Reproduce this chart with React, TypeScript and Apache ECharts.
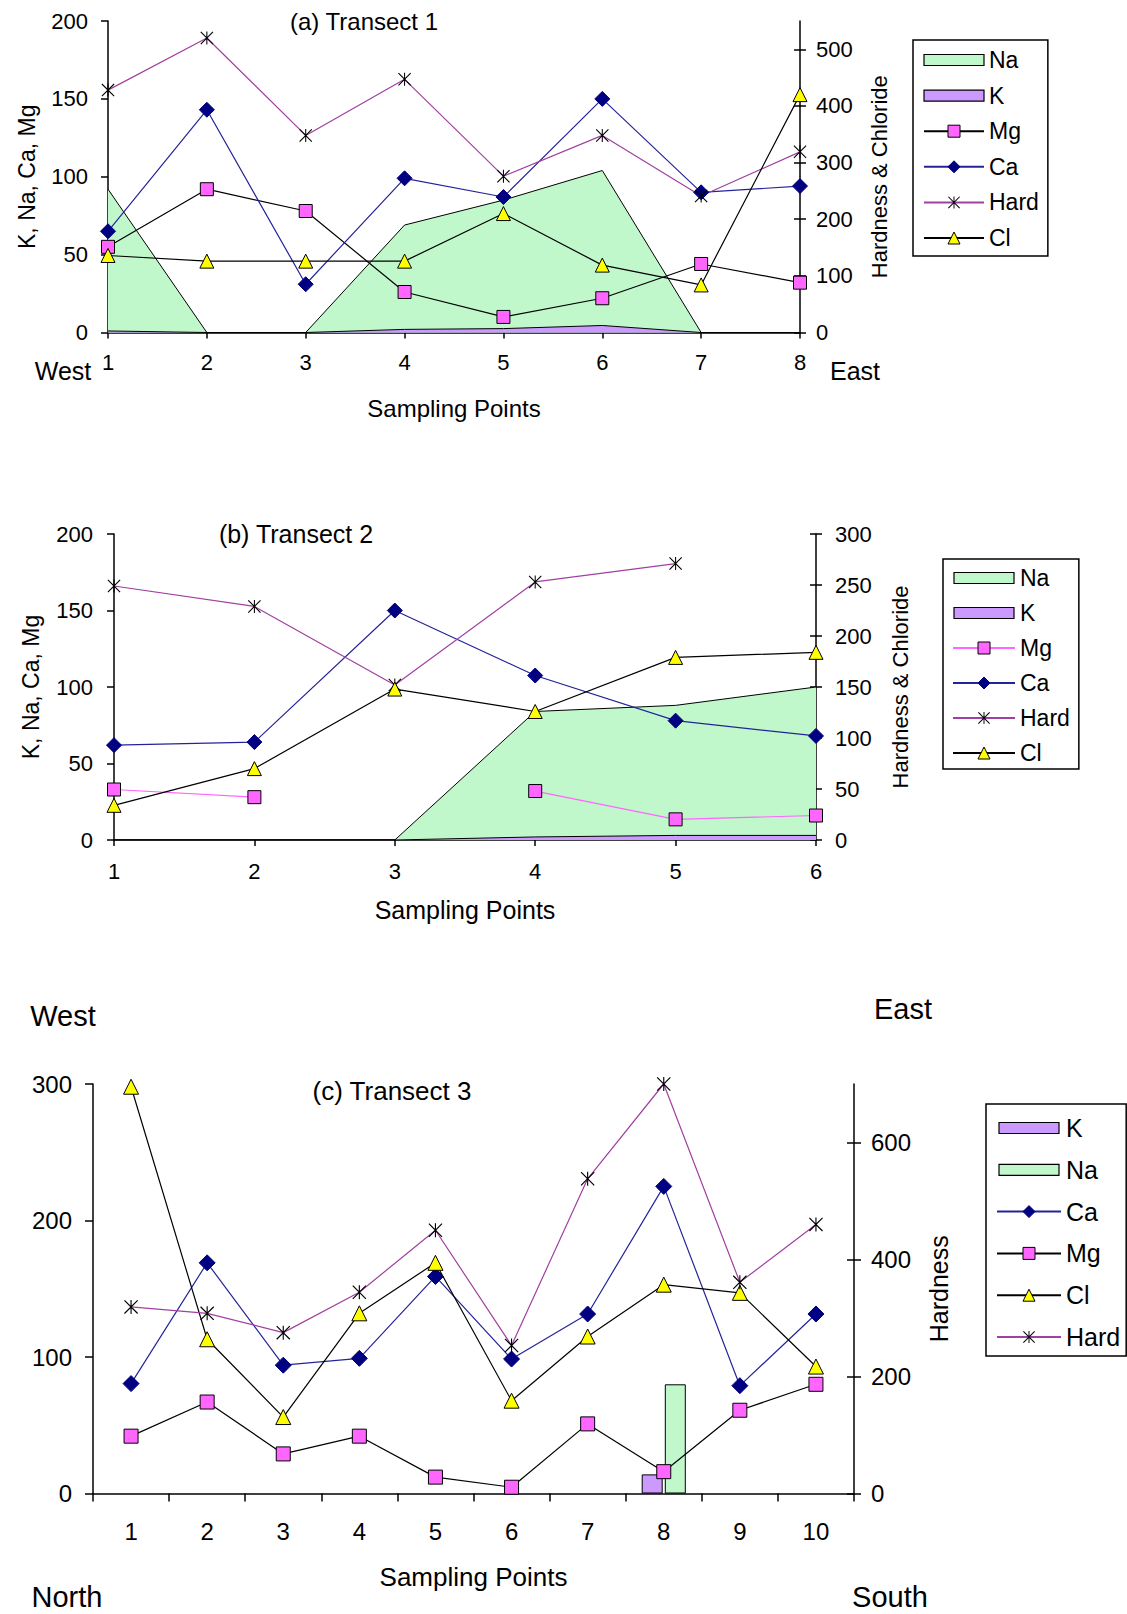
import React, { useEffect, useRef } from 'react';
import * as echarts from 'echarts';

const FONT = 'Arial, "Liberation Sans", sans-serif';

// ---------- Panel (a) Transect 1 ----------
const catsA = ['1', '2', '3', '4', '5', '6', '7', '8'];
const naA = [92, 0, 0, 69, 85, 104, 0, 0];
const kA = [1, 0, 0, 2, 2.5, 4.5, 0, 0];
const mgA = [55, 92, 78, 26, 10, 22, 44, 32];
const caA = [65, 143, 31, 99, 87, 150, 90, 94];
const hardA = [428, 520, 348, 447, 276, 348, 241, 319];
const clA = [136, 126, 126, 126, 210, 119, 84, 420];
const rightTicksA = [0, 100, 200, 300, 400, 500];

// ---------- Panel (b) Transect 2 ----------
const catsB = ['1', '2', '3', '4', '5', '6'];
const naB = [0, 0, 0, 84, 88, 100];
const kB = [0, 0, 0, 2, 3, 3];
const mgB = [33, 28, null, 32, 13.5, 16];
const caB = [62, 64, 150, 107.5, 78, 68];
const hardB = [249, 229, 152, 253, 271, null];
const clB = [34, 70, 148, 126, 179, 184];

// ---------- Panel (c) Transect 3 ----------
const catsC = ['1', '2', '3', '4', '5', '6', '7', '8', '9', '10'];
const kC = [null, null, null, null, null, null, null, 14, null, null];
const naC = [null, null, null, null, null, null, null, 80, null, null];
const caC = [80.5, 169, 94, 99, 159, 98.5, 131.5, 225, 79, 131.5];
const mgC = [42, 67, 29, 42, 12, 4.6, 51, 16, 61, 80];
const clC = [298, 113, 56, 132, 169, 68, 115, 153, 147, 93];
const hardC = [319, 308, 275, 344, 450, 253, 538, 700, 361, 460];
const rightTicksC = [0, 200, 400, 600];

// ---------- Colours ----------
const NA_FILL = '#c0f8cc';
const K_FILL = '#cc99ff';
const MG_FILL = '#ff66ff';
const CA_FILL = '#000080';
const CA_LINE = '#24249a';
const HARD_LINE = '#a040a0';
const CL_FILL = '#ffff00';
const STAR =
  'path://M4.6,0L5.4,0L5.4,10L4.6,10Z M0,0.6L0.6,0L10,9.4L9.4,10Z M9.4,0L10,0.6L0.6,10L0,9.4Z';
const RECT_ICON = 'path://M0,0M0,15M0,2L60,2L60,13L0,13Z';

const txt = (size: number) => ({ fontSize: size, fontFamily: FONT, color: '#000' });
const axisLine = { show: true, lineStyle: { color: '#000', width: 1.5 } };
const tick = (length: number, inside = false, extra: any = {}) => ({
  show: true,
  inside,
  length,
  lineStyle: { color: '#000', width: 1.5 },
  ...extra,
});

function areaSeries(name: string, data: any[], fill: string, xi: number, yi: number) {
  return {
    type: 'line',
    name,
    data,
    xAxisIndex: xi,
    yAxisIndex: yi,
    symbol: 'none',
    lineStyle: { color: '#000', width: 1 },
    areaStyle: { color: fill, opacity: 1 },
    itemStyle: { color: fill },
    z: 1,
    emphasis: { disabled: true },
  };
}

function markSeries(
  name: string,
  data: any[],
  xi: number,
  yi: number,
  o: { line: string; fill: string; border: string; symbol: string; size: number; bw?: number }
) {
  return {
    type: 'line',
    name,
    data,
    xAxisIndex: xi,
    yAxisIndex: yi,
    symbol: o.symbol,
    symbolSize: o.size,
    showSymbol: true,
    showAllSymbol: true,
    connectNulls: false,
    lineStyle: { color: o.line, width: 1.2 },
    itemStyle: { color: o.fill, borderColor: o.border, borderWidth: o.bw ?? 1 },
    z: 3,
    emphasis: { disabled: true },
  };
}

const MG = (line: string, size: number) => ({ line, fill: MG_FILL, border: '#000', symbol: 'rect', size });
const CA = (size: number) => ({ line: CA_LINE, fill: CA_FILL, border: CA_FILL, symbol: 'diamond', size: size + 2 });
const HARD = (size: number) => ({ line: HARD_LINE, fill: '#000', border: '#000', symbol: STAR, size, bw: 0 });
const CL = (size: number) => ({ line: '#000', fill: CL_FILL, border: '#000', symbol: 'triangle', size: size + 1 });

function legendCfg(
  prefix: string,
  names: string[],
  pos: { left: number; top: number; padding: number[]; gap: number; w: number; h: number; font: number; lh: number }
) {
  const fills: Record<string, string> = { Na: NA_FILL, K: K_FILL };
  return {
    orient: 'vertical',
    left: pos.left,
    top: pos.top,
    padding: pos.padding,
    itemGap: pos.gap,
    itemWidth: pos.w,
    itemHeight: pos.h,
    borderColor: '#000',
    borderWidth: 1.5,
    borderRadius: 0,
    backgroundColor: '#fff',
    selectedMode: false,
    textStyle: { ...txt(pos.font), lineHeight: pos.lh },
    formatter: (n: string) => n.split(':')[1],
    data: names.map((n) =>
      fills[n]
        ? { name: prefix + n, icon: RECT_ICON, itemStyle: { color: fills[n], borderColor: '#000', borderWidth: 1.2 } }
        : { name: prefix + n, itemStyle: { borderWidth: n === 'Hard' ? 0 : 1 } }
    ),
  };
}

function gtext(text: string, x: number, y: number, size: number) {
  return {
    type: 'text',
    x,
    y,
    silent: true,
    style: { text, fill: '#000', font: `${size}px ${FONT}`, align: 'center', verticalAlign: 'middle' },
  };
}

function buildOption() {
  const grid = [
    { left: 108, top: 21, width: 692, height: 311.5, outerBoundsMode: 'none' },
    { left: 114, top: 534, width: 702, height: 306, outerBoundsMode: 'none' },
    { left: 93, top: 1084, width: 761, height: 409.5, outerBoundsMode: 'none' },
  ];

  const xAxis = [
    {
      type: 'category', gridIndex: 0, data: catsA, boundaryGap: false,
      axisLine, axisTick: tick(6), splitLine: { show: false },
      axisLabel: { ...txt(22), margin: 19, interval: 0, lineHeight: 22 },
      name: 'Sampling Points', nameLocation: 'middle', nameGap: 64, nameTextStyle: { ...txt(24), lineHeight: 24 },
    },
    {
      type: 'category', gridIndex: 1, data: catsB, boundaryGap: false,
      axisLine, axisTick: tick(6), splitLine: { show: false },
      axisLabel: { ...txt(22), margin: 20, interval: 0, lineHeight: 22 },
      name: 'Sampling Points', nameLocation: 'middle', nameGap: 57, nameTextStyle: { ...txt(25), lineHeight: 25 },
    },
    {
      type: 'category', gridIndex: 2, data: catsC, boundaryGap: true,
      axisLine, axisTick: tick(8), splitLine: { show: false },
      axisLabel: { ...txt(24), margin: 26, interval: 0, lineHeight: 24 },
      name: 'Sampling Points', nameLocation: 'middle', nameGap: 70, nameTextStyle: { ...txt(26), lineHeight: 26 },
    },
  ];

  const yAxis = [
    // 0: a left
    {
      type: 'value', gridIndex: 0, position: 'left', min: 0, max: 200, interval: 50,
      axisLine, axisTick: tick(7), splitLine: { show: false },
      axisLabel: { ...txt(22), margin: 20 },
      name: 'K, Na, Ca, Mg', nameLocation: 'middle', nameGap: 70, nameTextStyle: { ...txt(23), lineHeight: 23 },
    },
    // 1: a right
    {
      type: 'value', gridIndex: 0, position: 'right', min: 0, max: 550,
      axisLine, axisTick: tick(6, false, { customValues: rightTicksA }), splitLine: { show: false },
      axisLabel: { ...txt(22), margin: 16, customValues: rightTicksA },
      name: 'Hardness & Chloride', nameLocation: 'middle', nameGap: 68, nameTextStyle: { ...txt(22), lineHeight: 22 },
    },
    // 2: a right inner ticks
    {
      type: 'value', gridIndex: 0, position: 'right', min: 0, max: 550,
      axisLine: { show: false }, axisTick: tick(6, true, { customValues: rightTicksA }),
      axisLabel: { show: false }, splitLine: { show: false },
    },
    // 3: b left
    {
      type: 'value', gridIndex: 1, position: 'left', min: 0, max: 200, interval: 50,
      axisLine, axisTick: tick(7), splitLine: { show: false },
      axisLabel: { ...txt(22), margin: 21 },
      name: 'K, Na, Ca, Mg', nameLocation: 'middle', nameGap: 72, nameTextStyle: { ...txt(23), lineHeight: 23 },
    },
    // 4: b right
    {
      type: 'value', gridIndex: 1, position: 'right', min: 0, max: 300, interval: 50,
      axisLine, axisTick: tick(6), splitLine: { show: false },
      axisLabel: { ...txt(22), margin: 19 },
      name: 'Hardness & Chloride', nameLocation: 'middle', nameGap: 73, nameTextStyle: { ...txt(22), lineHeight: 22 },
    },
    // 5: b right inner ticks
    {
      type: 'value', gridIndex: 1, position: 'right', min: 0, max: 300, interval: 50,
      axisLine: { show: false }, axisTick: tick(6, true), axisLabel: { show: false }, splitLine: { show: false },
    },
    // 6: c left
    {
      type: 'value', gridIndex: 2, position: 'left', min: 0, max: 300, interval: 100,
      axisLine, axisTick: tick(8), splitLine: { show: false },
      axisLabel: { ...txt(24), margin: 21 },
    },
    // 7: c right
    {
      type: 'value', gridIndex: 2, position: 'right', min: 0, max: 700,
      axisLine, axisTick: tick(7, false, { customValues: rightTicksC }), splitLine: { show: false },
      axisLabel: { ...txt(24), margin: 17, customValues: rightTicksC },
      name: 'Hardness', nameLocation: 'middle', nameGap: 72, nameTextStyle: { ...txt(25), lineHeight: 25 },
    },
    // 8: c right inner ticks
    {
      type: 'value', gridIndex: 2, position: 'right', min: 0, max: 700,
      axisLine: { show: false }, axisTick: tick(7, true, { customValues: rightTicksC }),
      axisLabel: { show: false }, splitLine: { show: false },
    },
  ];

  const series: any[] = [
    // (a)
    areaSeries('a:Na', naA, NA_FILL, 0, 0),
    areaSeries('a:K', kA, K_FILL, 0, 0),
    markSeries('a:Mg', mgA, 0, 0, MG('#000', 13)),
    markSeries('a:Ca', caA, 0, 0, CA(13)),
    markSeries('a:Hard', hardA, 0, 1, HARD(13)),
    markSeries('a:Cl', clA, 0, 1, CL(13)),
    // (b)
    areaSeries('b:Na', naB, NA_FILL, 1, 3),
    areaSeries('b:K', kB, K_FILL, 1, 3),
    markSeries('b:Mg', mgB, 1, 3, MG(MG_FILL, 13)),
    markSeries('b:Ca', caB, 1, 3, CA(13)),
    markSeries('b:Hard', hardB, 1, 4, HARD(13)),
    markSeries('b:Cl', clB, 1, 4, CL(13)),
    // (c)
    {
      type: 'bar', name: 'c:K', data: kC, xAxisIndex: 2, yAxisIndex: 6, barWidth: 21, barGap: '10%',
      itemStyle: { color: K_FILL, borderColor: '#000', borderWidth: 1 }, z: 1, emphasis: { disabled: true },
    },
    {
      type: 'bar', name: 'c:Na', data: naC, xAxisIndex: 2, yAxisIndex: 6, barWidth: 21, barGap: '10%',
      itemStyle: { color: NA_FILL, borderColor: '#000', borderWidth: 1 }, z: 1, emphasis: { disabled: true },
    },
    markSeries('c:Ca', caC, 2, 6, CA(14)),
    markSeries('c:Mg', mgC, 2, 6, MG('#000', 14)),
    markSeries('c:Cl', clC, 2, 6, CL(14)),
    markSeries('c:Hard', hardC, 2, 7, HARD(14)),
  ];

  const legend = [
    legendCfg('a:', ['Na', 'K', 'Mg', 'Ca', 'Hard', 'Cl'], {
      left: 913, top: 40, padding: [8, 9, 6, 10], gap: 11.6, w: 60, h: 15, font: 23, lh: 24,
    }),
    legendCfg('b:', ['Na', 'K', 'Mg', 'Ca', 'Hard', 'Cl'], {
      left: 943, top: 559, padding: [7, 9, 4, 9], gap: 11, w: 62, h: 15, font: 23, lh: 24,
    }),
    legendCfg('c:', ['K', 'Na', 'Ca', 'Mg', 'Cl', 'Hard'], {
      left: 986, top: 1104, padding: [11, 6, 6, 10], gap: 15.8, w: 64, h: 15, font: 25, lh: 26,
    }),
  ];

  const graphic = [
    gtext('(a) Transect 1', 364, 21, 24),
    gtext('West', 63, 371, 25),
    gtext('East', 855, 371, 25),
    gtext('(b) Transect 2', 296, 534, 25),
    gtext('West', 63, 1016, 29),
    gtext('East', 903, 1009, 29),
    gtext('(c) Transect 3', 392, 1091, 26),
    gtext('North', 67, 1597, 29),
    gtext('South', 890, 1597, 29),
  ];

  return {
    animation: false,
    backgroundColor: '#fff',
    textStyle: { fontFamily: FONT },
    grid,
    xAxis,
    yAxis,
    series,
    legend,
    graphic,
  };
}

export default function App() {
  const ref = useRef<HTMLDivElement | null>(null);
  useEffect(() => {
    if (!ref.current) return;
    const chart = echarts.init(ref.current, undefined, { renderer: 'svg' });
    chart.setOption(buildOption() as any);
    return () => chart.dispose();
  }, []);
  return (
    <div
      ref={ref}
      style={{ position: 'absolute', left: 0, top: 0, width: 1127, height: 1614, background: '#fff' }}
    />
  );
}
